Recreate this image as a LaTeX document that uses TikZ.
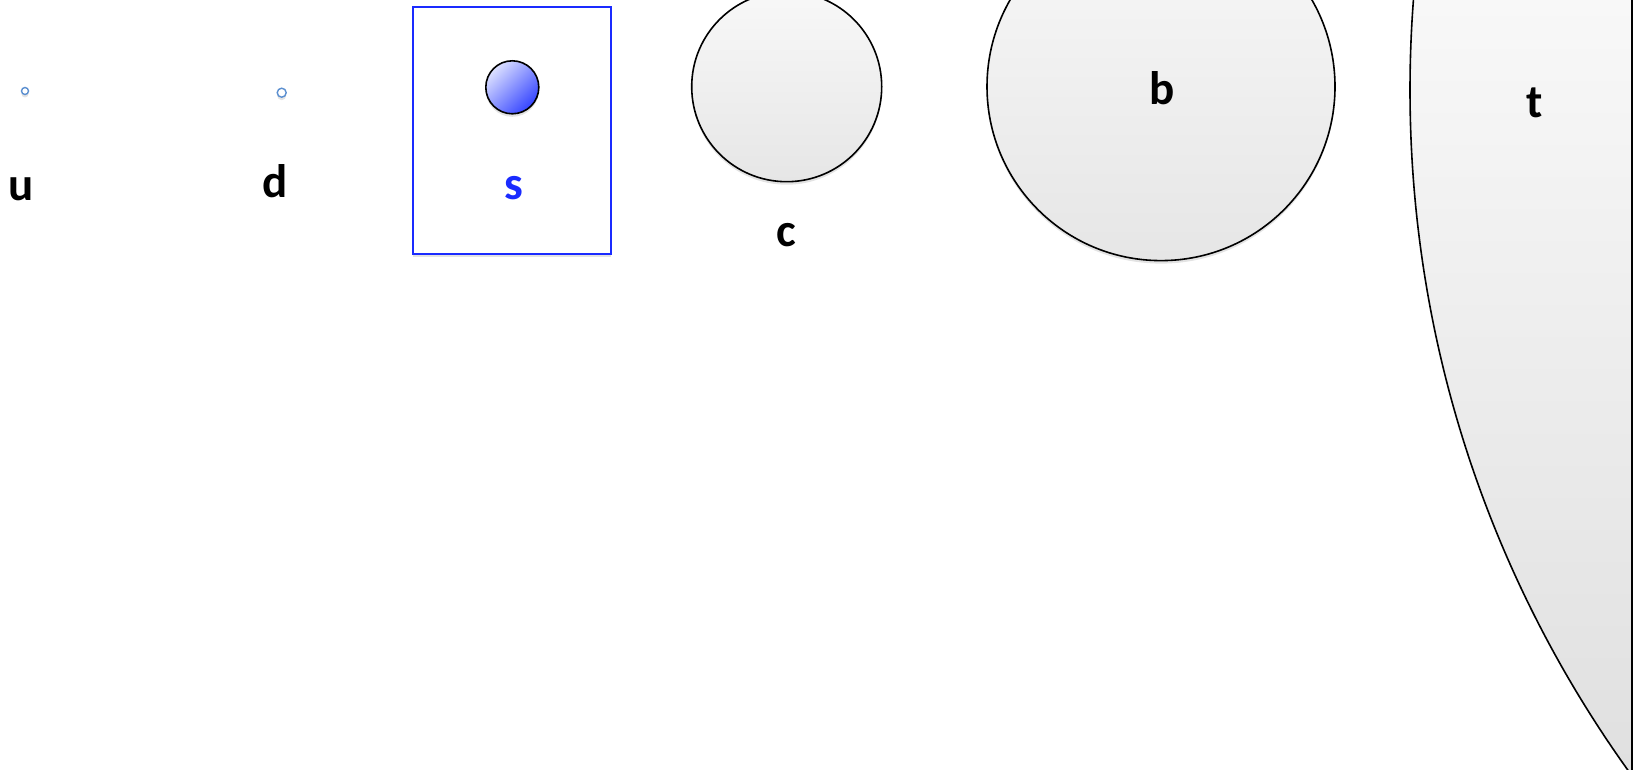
\documentclass[tikz,border=0pt]{standalone}
\usepackage{fontspec}
\setmainfont{Carlito}
\usetikzlibrary{shadows}
\definecolor{gtop}{HTML}{F8F8F8}
\definecolor{gbot}{HTML}{E6E6E6}
\definecolor{tbot}{HTML}{E0E0E0}
\definecolor{dotblue}{HTML}{5B8FD0}
\definecolor{sblue}{HTML}{1A2BFF}
\definecolor{ballhi}{HTML}{DDE1FF}
\definecolor{balllo}{HTML}{3545FF}
\begin{document}
\begin{tikzpicture}[x=1pt,y=-1pt,
  softshadow/.style={drop shadow={opacity=0.22, shadow xshift=0pt, shadow yshift=-3pt}},
  quark/.style={circle, draw=black, line width=1.6pt, top color=gtop, bottom color=gbot, inner sep=0pt, softshadow},
  dot/.style={circle, draw=dotblue, line width=1.4pt, fill=white, inner sep=0pt, softshadow},
  lbl/.style={font=\bfseries\fontsize{47}{50}\selectfont, inner sep=0pt, text=black}]
\useasboundingbox (0,0) rectangle (1641,770);

% u and d
\node[dot, minimum size=7pt] (u) at (25,91) {};
\node[dot, minimum size=9pt] (d) at (281.7,92.7) {};
\node[lbl] (ulbl) at (21,189) {u};
\node[lbl] (dlbl) at (275,181) {d};

% s
\node[draw=sblue, line width=1.9pt, fill=white, minimum width=198pt, minimum height=247pt, inner sep=0pt, softshadow] (sbox) at (511.7,130.4) {};
\node[circle, draw=black, line width=1.6pt, minimum size=53pt, inner sep=0pt, top color=ballhi, bottom color=balllo, shading angle=45, softshadow] (s) at (512.3,87.3) {};
\node[lbl, text=sblue] (slbl) at (514,188) {s};

% c
\node[quark, minimum size=190pt] (c) at (786.7,86.7) {};
\node[lbl] (clbl) at (786,235) {c};

% b
\node[quark, minimum size=348pt] (b) at (1161,86.6) {};
\node[lbl] (blbl) at (1162,88) {b};

% t
\begin{scope}
  \clip (0,0) rectangle (1631.7,770);
  \clip (2580,90) circle (1170);
  \shade[top color=gtop, bottom color=tbot] (1400,0) rectangle (1640,770);
\end{scope}
\begin{scope}
  \clip (0,0) rectangle (1631.7,770);
  \draw[line width=1.6pt] (2580,90) circle (1170);
\end{scope}
\draw[line width=1.6pt] (1631.7,0) -- (1631.7,770);
\node[lbl] (tlbl) at (1535,103) {t};
\end{tikzpicture}
\end{document}
